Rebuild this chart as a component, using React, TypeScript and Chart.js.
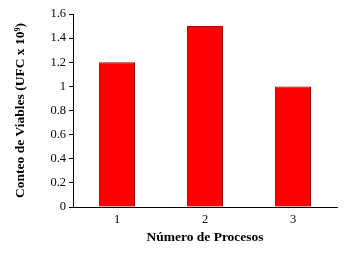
import React, { useEffect, useRef } from "react";
import { Chart, registerables } from "chart.js";

Chart.register(...registerables);

const categories = ["1", "2", "3"];
const values = [1.2, 1.5, 1.0];
const yTicks = [0, 0.2, 0.4, 0.6, 0.8, 1, 1.2, 1.4, 1.6];

const shadowPlugin = {
  id: "barShadow",
  beforeDatasetsDraw(chart: any) {
    const ctx = chart.ctx;
    ctx.save();
    ctx.shadowColor = "rgba(0,0,0,0.35)";
    ctx.shadowBlur = 4;
    ctx.shadowOffsetX = 3;
    ctx.shadowOffsetY = 2;
  },
  afterDatasetsDraw(chart: any) {
    chart.ctx.restore();
  },
};

export default function App() {
  const ref = useRef<HTMLCanvasElement>(null);
  useEffect(() => {
    document.body.style.margin = "0";
    const font = "'Liberation Serif', 'Times New Roman', serif";
    const chart = new Chart(ref.current!, {
      type: "bar",
      data: {
        labels: categories,
        datasets: [
          {
            data: values,
            backgroundColor: "#ff0000",
            borderColor: "#c00000",
            borderWidth: 1,
            barPercentage: 0.41,
            categoryPercentage: 1,
          },
        ],
      },
      options: {
        animation: false,
        responsive: false,
        maintainAspectRatio: false,
        layout: { padding: { left: 12, top: 14, right: 15, bottom: 13 } },
        plugins: { legend: { display: false }, tooltip: { enabled: false } },
        scales: {
          x: {
            grid: { display: false, drawTicks: false },
            border: { display: true, color: "#000", width: 1 },
            ticks: { color: "#000", font: { family: font, size: 12.5 }, padding: 5 },
            title: {
              display: true,
              text: "Número de Procesos",
              color: "#000",
              font: { family: font, size: 13.5, weight: "bold" },
              padding: { top: 0, bottom: 0 },
            },
            afterFit(scale: any) {
              scale.height = 39;
            },
          },
          y: {
            min: 0,
            max: 1.6,
            afterBuildTicks(scale: any) {
              scale.ticks = yTicks.map((v) => ({ value: v }));
            },
            grid: { drawOnChartArea: false, drawTicks: true, tickLength: 4, color: "#000" },
            border: { display: true, color: "#000", width: 1 },
            ticks: {
              color: "#000",
              font: { family: font, size: 12.5 },
              padding: 3,
              callback: (v: any) => String(v),
            },
            title: {
              display: true,
              text: "Conteo de Viables (UFC x 10⁹)",
              color: "#000",
              font: { family: font, size: 13.5, weight: "bold" },
              padding: { top: 0, bottom: 4 },
            },
            afterFit(scale: any) {
              scale.width = 61;
            },
          },
        },
      },
      plugins: [shadowPlugin],
    });
    return () => chart.destroy();
  }, []);
  return (
    <div style={{ position: "absolute", left: 0, top: 0, width: 352, height: 259, background: "#fff" }}>
      <canvas ref={ref} width={352} height={259} style={{ width: 352, height: 259 }} />
    </div>
  );
}
